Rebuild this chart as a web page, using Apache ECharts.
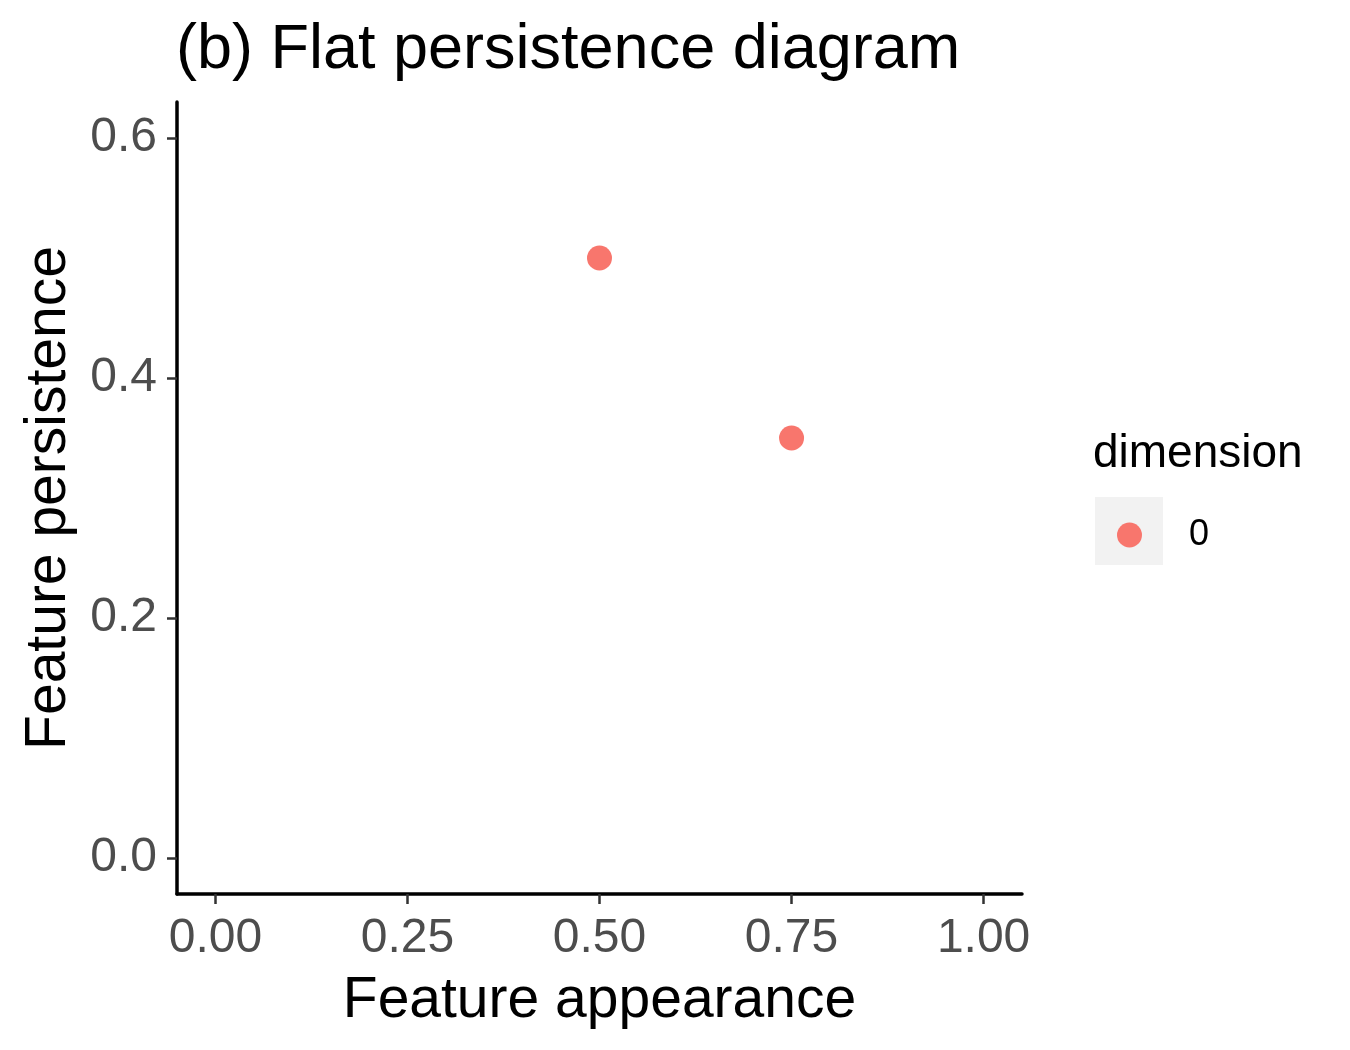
<!DOCTYPE html>
<html>
<head>
<meta charset="utf-8">
<style>
  html, body { margin: 0; padding: 0; background: #fff; }
  #chart { width: 1350px; height: 1050px; }
</style>
<script src="https://cdn.jsdelivr.net/npm/echarts@6/dist/echarts.min.js"></script>
</head>
<body>
<div id="chart"></div>
<script>
// data
const appearance = [0.5, 0.75];
const persistence = [0.5, 0.35];
const dimensionName = '0';
const xTicks = [0, 0.25, 0.5, 0.75, 1];
const yTicks = [0, 0.2, 0.4, 0.6];

const FONT = '"Liberation Sans", Arial, sans-serif';
const chart = echarts.init(document.getElementById('chart'));

let points = appearance.map(function (x, i) {
  return [x, persistence[i]];
});

let option = {
  backgroundColor: '#fff',
  animation: false,
  title: {
    text: '(b) Flat persistence diagram',
    left: 176,
    top: 19,
    padding: 0,
    textStyle: { fontFamily: FONT, fontSize: 63, fontWeight: 'normal', color: '#000' },
  },
  grid: { left: 177, right: 328, top: 102, bottom: 156 },
  //图例 (legend key)
  legend: {
    left: 1117,
    top: 517,
    padding: 0,
    itemWidth: 25,
    itemHeight: 25,
    icon: 'circle',
    selectedMode: false,
    textStyle: { fontFamily: FONT, fontSize: 36, color: '#000', padding: [0, 0, 0, 42] },
    data: [dimensionName],
  },
  graphic: [
    {
      type: 'rect',
      z: 0,
      shape: { x: 1095, y: 497, width: 68, height: 68 },
      style: { fill: '#F2F2F2' },
    },
    {
      type: 'text',
      left: 1093,
      top: 431,
      style: { text: 'dimension', font: '46px ' + FONT, fill: '#000' },
    },
  ],
  xAxis: {
    type: 'value',
    min: -0.05,
    max: 1.05,
    name: 'Feature appearance',
    nameLocation: 'middle',
    nameGap: 79,
    nameTextStyle: { fontFamily: FONT, fontSize: 57, color: '#000' },
    axisLine: { show: true, onZero: false, lineStyle: { color: '#000', width: 3.5 } },
    axisTick: { show: true, length: 10, customValues: xTicks, lineStyle: { color: '#333', width: 2.5 } },
    axisLabel: {
      customValues: xTicks,
      margin: 21,
      fontFamily: FONT,
      fontSize: 48,
      color: '#4D4D4D',
      formatter: function (v) { return v.toFixed(2); },
    },
    splitLine: { show: false },
  },
  yAxis: {
    type: 'value',
    min: -0.03,
    max: 0.63,
    name: 'Feature persistence',
    nameLocation: 'middle',
    nameGap: 99,
    nameTextStyle: { fontFamily: FONT, fontSize: 57, color: '#000' },
    axisLine: { show: true, onZero: false, lineStyle: { color: '#000', width: 3.5 } },
    axisTick: { show: true, length: 10, customValues: yTicks, lineStyle: { color: '#333', width: 2.5 } },
    axisLabel: {
      customValues: yTicks,
      margin: 20,
      fontFamily: FONT,
      fontSize: 48,
      color: '#4D4D4D',
      formatter: function (v) { return v.toFixed(1); },
    },
    splitLine: { show: false },
  },
  series: [
    {
      name: dimensionName,
      type: 'scatter',
      symbol: 'circle',
      symbolSize: 25,
      itemStyle: { color: '#F8766D', opacity: 1 },
      data: points,
    },
  ],
};
chart.setOption(option);
</script>
</body>
</html>
